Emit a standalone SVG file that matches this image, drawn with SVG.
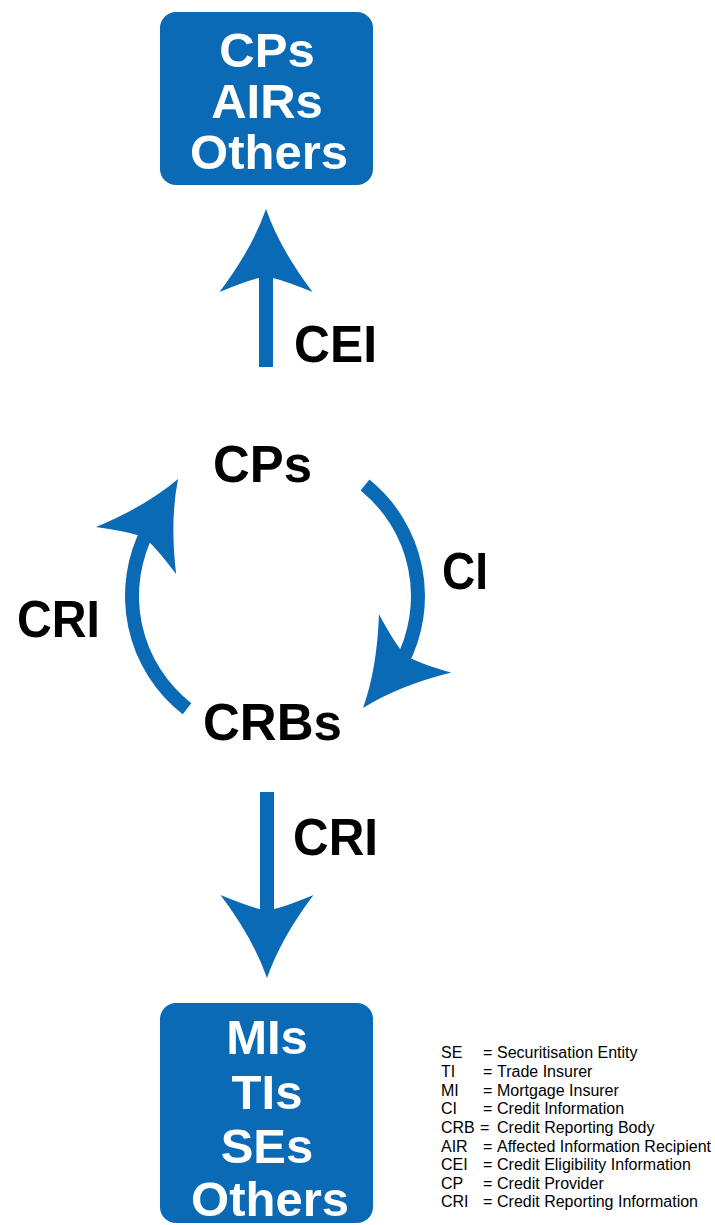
<svg xmlns="http://www.w3.org/2000/svg" width="715" height="1225" viewBox="0 0 715 1225">
<style>
.box{fill:#0a6ab6}
.bt{font-family:"Liberation Sans",Arial,sans-serif;font-weight:bold;font-size:49px;fill:#fff;text-anchor:middle}
.lb{font-family:"Liberation Sans",Arial,sans-serif;font-weight:bold;font-size:52px;fill:#000}
.lg{font-family:"Liberation Sans",Arial,sans-serif;font-size:16px;fill:#000}
.sh{fill:none;stroke:#0a6ab6;stroke-width:14}
.hd{fill:#0a6ab6}
</style>
<defs>
<path id="head" d="M0 0 Q-40 -14 -83 -46.5 Q-72 -20 -69 -7 L-66 0 L-69 7 Q-72 20 -83 46.5 Q-40 14 0 0 Z"/>
</defs>
<rect width="715" height="1225" fill="#fff"/>
<g id="top-box">
<rect class="box" x="160" y="12" width="213" height="173" rx="16"/>
<text class="bt" x="267" y="67">CPs</text>
<text class="bt" x="267" y="118">AIRs</text>
<text class="bt" x="269" y="169">Others</text>
</g>
<g id="bottom-box">
<rect class="box" x="160" y="1003" width="213" height="220" rx="16"/>
<text class="bt" x="267" y="1054">MIs</text>
<text class="bt" x="267" y="1109">TIs</text>
<text class="bt" x="267" y="1163">SEs</text>
<text class="bt" x="270" y="1216">Others</text>
</g>
<g id="cps-node"><text class="lb" x="213" y="482" textLength="99" lengthAdjust="spacingAndGlyphs">CPs</text></g>
<g id="crbs-node"><text class="lb" x="203" y="740" textLength="139" lengthAdjust="spacingAndGlyphs">CRBs</text></g>
<g id="connectors">
<line class="sh" x1="266" y1="367" x2="266" y2="275"/>
<use href="#head" class="hd" transform="translate(266,209) rotate(-90)"/>
<line class="sh" x1="267" y1="792" x2="267" y2="912"/>
<use href="#head" class="hd" transform="translate(267,978) rotate(90)"/>
<path class="sh" d="M365 485 A143 143 0 0 1 401.3 663.1"/>
<use href="#head" class="hd" transform="translate(363,708) rotate(128.9)"/>
<path class="sh" d="M187 708.7 A143 143 0 0 1 148.7 528.9"/>
<use href="#head" class="hd" transform="translate(178,479) rotate(-59.6)"/>
<text class="lb" x="294" y="362" textLength="83" lengthAdjust="spacingAndGlyphs">CEI</text>
<text class="lb" x="442" y="589" textLength="46" lengthAdjust="spacingAndGlyphs">CI</text>
<text class="lb" x="17" y="637" textLength="83" lengthAdjust="spacingAndGlyphs">CRI</text>
<text class="lb" x="293" y="855" textLength="85" lengthAdjust="spacingAndGlyphs">CRI</text>
</g>
<g id="legend" class="lg">
<text x="441" y="1058">SE</text><text x="483" y="1058">=</text><text x="497" y="1058">Securitisation Entity</text>
<text x="441" y="1077">TI</text><text x="483" y="1077">=</text><text x="497" y="1077">Trade Insurer</text>
<text x="441" y="1096">MI</text><text x="483" y="1096">=</text><text x="497" y="1096">Mortgage Insurer</text>
<text x="441" y="1114">CI</text><text x="483" y="1114">=</text><text x="497" y="1114">Credit Information</text>
<text x="441" y="1133">CRB</text><text x="480" y="1133">=</text><text x="497" y="1133">Credit Reporting Body</text>
<text x="441" y="1152">AIR</text><text x="483" y="1152">=</text><text x="497" y="1152">Affected Information Recipient</text>
<text x="441" y="1170">CEI</text><text x="483" y="1170">=</text><text x="497" y="1170">Credit Eligibility Information</text>
<text x="441" y="1189">CP</text><text x="483" y="1189">=</text><text x="497" y="1189">Credit Provider</text>
<text x="441" y="1207">CRI</text><text x="483" y="1207">=</text><text x="497" y="1207">Credit Reporting Information</text>
</g>
</svg>
